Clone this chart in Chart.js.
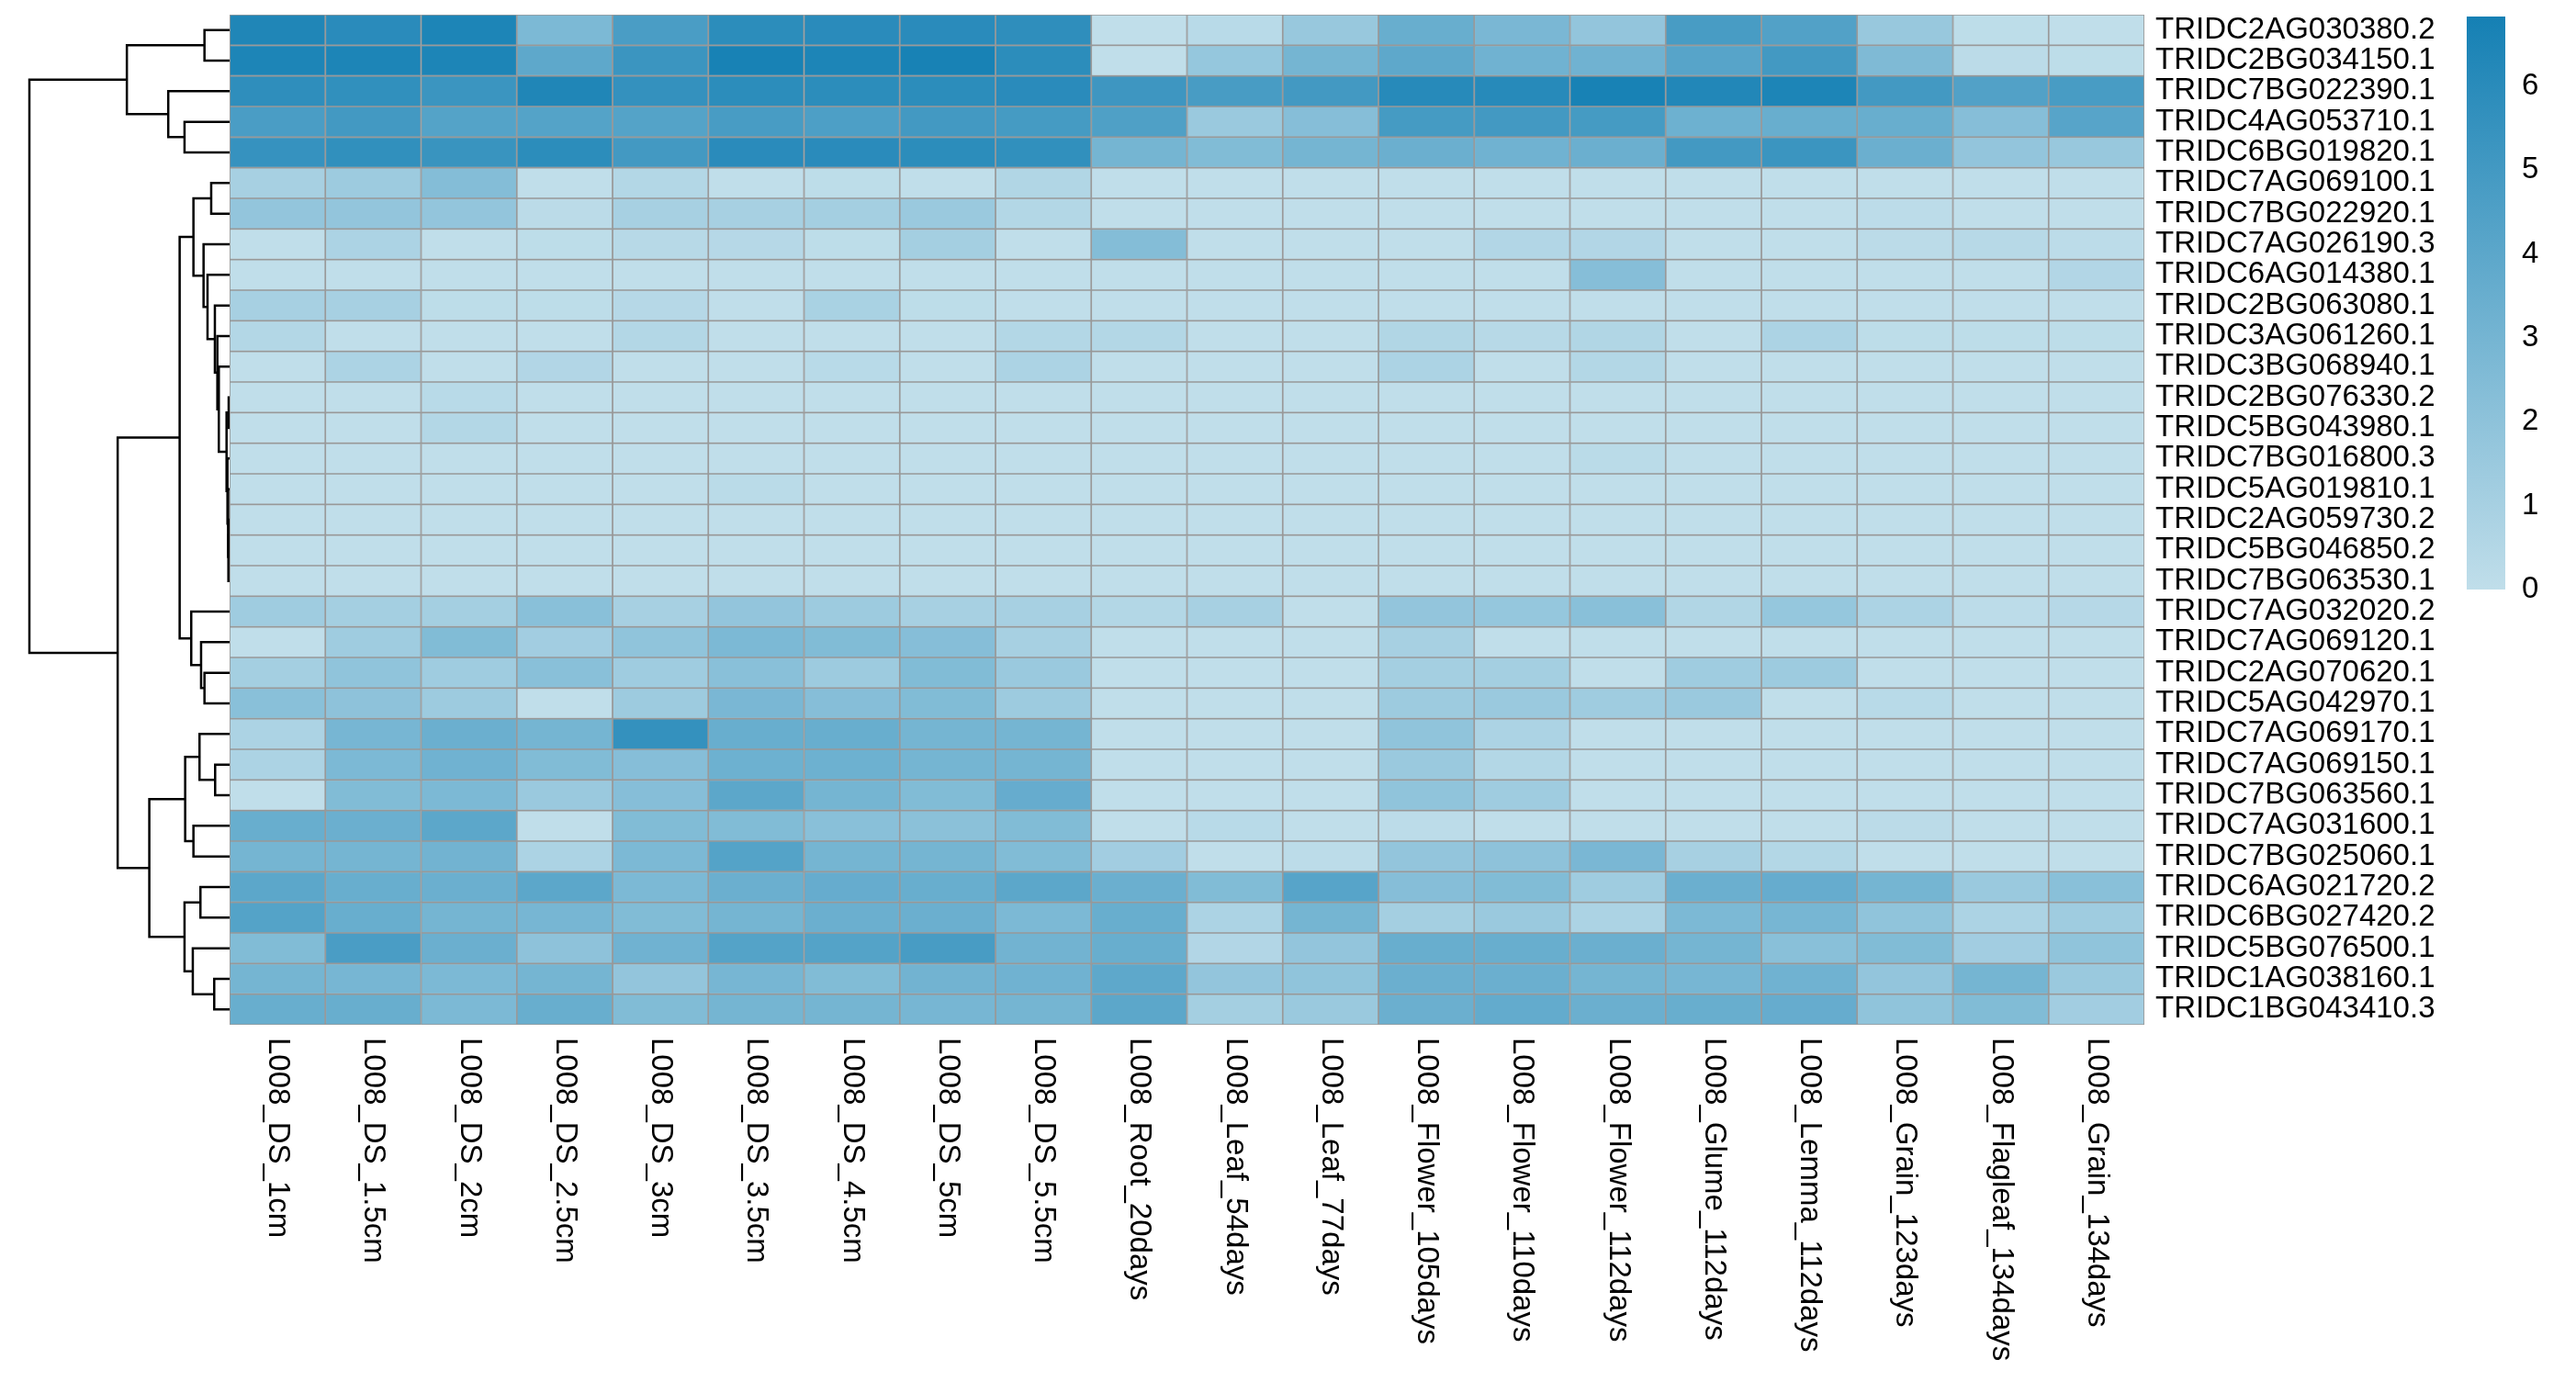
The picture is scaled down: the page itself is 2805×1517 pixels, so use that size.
<!DOCTYPE html>
<html>
<head>
<meta charset="utf-8">
<script src="https://cdn.jsdelivr.net/npm/chart.js@4.4.0/dist/chart.umd.min.js"></script>
<style>
  html, body { margin: 0; padding: 0; background: #fff; }
  #wrap { position: relative; width: 2805px; height: 1517px; }
  #wrap canvas { position: absolute; left: 0; top: 0; }
</style>
</head>
<body>
<div id="wrap">
  <canvas id="dendro" width="2805" height="1517"></canvas>
  <canvas id="heat" width="2805" height="1517"></canvas>
  <canvas id="key" width="2805" height="1517"></canvas>
</div>
<script>
// genes, top to bottom (dendrogram order)
const genes = [
  'TRIDC2AG030380.2', 'TRIDC2BG034150.1', 'TRIDC7BG022390.1', 'TRIDC4AG053710.1',
  'TRIDC6BG019820.1', 'TRIDC7AG069100.1', 'TRIDC7BG022920.1', 'TRIDC7AG026190.3',
  'TRIDC6AG014380.1', 'TRIDC2BG063080.1', 'TRIDC3AG061260.1', 'TRIDC3BG068940.1',
  'TRIDC2BG076330.2', 'TRIDC5BG043980.1', 'TRIDC7BG016800.3', 'TRIDC5AG019810.1',
  'TRIDC2AG059730.2', 'TRIDC5BG046850.2', 'TRIDC7BG063530.1', 'TRIDC7AG032020.2',
  'TRIDC7AG069120.1', 'TRIDC2AG070620.1', 'TRIDC5AG042970.1', 'TRIDC7AG069170.1',
  'TRIDC7AG069150.1', 'TRIDC7BG063560.1', 'TRIDC7AG031600.1', 'TRIDC7BG025060.1',
  'TRIDC6AG021720.2', 'TRIDC6BG027420.2', 'TRIDC5BG076500.1', 'TRIDC1AG038160.1',
  'TRIDC1BG043410.3'
];

const samples = [
  'L008_DS_1cm', 'L008_DS_1.5cm', 'L008_DS_2cm', 'L008_DS_2.5cm', 'L008_DS_3cm',
  'L008_DS_3.5cm', 'L008_DS_4.5cm', 'L008_DS_5cm', 'L008_DS_5.5cm', 'L008_Root_20days',
  'L008_Leaf_54days', 'L008_Leaf_77days', 'L008_Flower_105days', 'L008_Flower_110days',
  'L008_Flower_112days', 'L008_Glume_112days', 'L008_Lemma_112days', 'L008_Grain_123days',
  'L008_Flagleaf_134days', 'L008_Grain_134days'
];

// one row per gene, one value per sample
const expression = [
  [6.4, 6.0, 6.5, 2.7, 4.7, 5.9, 6.0, 6.0, 5.8, 0.0, 0.3, 1.6, 3.5, 2.8, 1.8, 4.8, 4.4, 1.6, 0.1, 0.0],
  [6.5, 6.5, 6.5, 3.9, 5.3, 6.7, 6.5, 6.7, 5.9, 0.0, 1.7, 3.0, 3.9, 3.2, 3.2, 4.2, 5.0, 2.6, 0.2, 0.1],
  [5.8, 5.7, 5.3, 6.4, 5.6, 5.9, 5.9, 5.9, 6.0, 5.2, 4.8, 5.0, 6.1, 6.1, 6.7, 6.3, 6.5, 5.0, 4.4, 4.8],
  [4.7, 5.0, 4.3, 4.3, 4.3, 4.8, 4.6, 5.0, 4.9, 4.5, 1.5, 2.3, 4.9, 5.0, 4.9, 3.3, 3.5, 3.5, 2.3, 4.2],
  [5.5, 5.7, 5.4, 5.9, 5.0, 6.0, 6.0, 5.9, 5.7, 3.0, 2.5, 3.0, 3.4, 3.2, 3.4, 5.0, 5.3, 3.4, 1.8, 1.6],
  [1.0, 1.4, 2.4, 0.0, 0.5, 0.0, 0.1, 0.0, 0.6, 0.0, 0.0, 0.0, 0.0, 0.0, 0.0, 0.0, 0.0, 0.0, 0.0, 0.0],
  [1.8, 1.8, 1.8, 0.2, 1.0, 1.0, 1.1, 1.5, 0.5, 0.0, 0.0, 0.0, 0.0, 0.0, 0.0, 0.0, 0.0, 0.15, 0.0, 0.0],
  [0.0, 0.8, 0.0, 0.1, 0.35, 0.4, 0.1, 1.1, 0.0, 2.4, 0.0, 0.0, 0.0, 0.55, 0.55, 0.0, 0.0, 0.2, 0.35, 0.15],
  [0.0, 0.0, 0.0, 0.0, 0.0, 0.0, 0.0, 0.0, 0.0, 0.0, 0.0, 0.0, 0.0, 0.0, 2.3, 0.0, 0.0, 0.0, 0.0, 0.55],
  [1.0, 1.0, 0.1, 0.1, 0.4, 0.0, 0.9, 0.1, 0.0, 0.0, 0.0, 0.0, 0.0, 0.0, 0.0, 0.0, 0.0, 0.0, 0.0, 0.0],
  [0.5, 0.0, 0.0, 0.0, 0.5, 0.0, 0.0, 0.0, 0.5, 0.5, 0.0, 0.0, 0.6, 0.35, 0.6, 0.0, 0.8, 0.1, 0.1, 0.1],
  [0.0, 0.8, 0.0, 0.55, 0.0, 0.0, 0.3, 0.0, 0.8, 0.0, 0.0, 0.0, 0.8, 0.0, 0.5, 0.0, 0.0, 0.0, 0.0, 0.0],
  [0.0, 0.0, 0.3, 0.0, 0.0, 0.0, 0.0, 0.0, 0.0, 0.0, 0.0, 0.0, 0.0, 0.0, 0.0, 0.0, 0.0, 0.0, 0.0, 0.0],
  [0.0, 0.0, 0.5, 0.0, 0.0, 0.0, 0.0, 0.0, 0.0, 0.0, 0.0, 0.0, 0.0, 0.0, 0.0, 0.0, 0.0, 0.0, 0.0, 0.0],
  [0.0, 0.0, 0.0, 0.0, 0.0, 0.0, 0.0, 0.0, 0.0, 0.0, 0.0, 0.0, 0.0, 0.0, 0.25, 0.0, 0.0, 0.0, 0.0, 0.0],
  [0.0, 0.0, 0.0, 0.0, 0.0, 0.25, 0.0, 0.0, 0.0, 0.0, 0.0, 0.0, 0.0, 0.0, 0.0, 0.0, 0.0, 0.0, 0.0, 0.0],
  [0.0, 0.0, 0.0, 0.0, 0.0, 0.0, 0.0, 0.0, 0.0, 0.0, 0.0, 0.0, 0.0, 0.0, 0.0, 0.0, 0.0, 0.0, 0.0, 0.0],
  [0.0, 0.0, 0.0, 0.0, 0.0, 0.0, 0.0, 0.0, 0.0, 0.0, 0.0, 0.0, 0.0, 0.0, 0.0, 0.0, 0.0, 0.0, 0.0, 0.0],
  [0.0, 0.0, 0.0, 0.0, 0.0, 0.0, 0.0, 0.0, 0.0, 0.0, 0.0, 0.0, 0.0, 0.0, 0.0, 0.0, 0.0, 0.0, 0.0, 0.0],
  [1.3, 1.1, 1.1, 2.2, 1.0, 1.8, 1.4, 1.0, 1.0, 0.5, 1.0, 0.0, 1.8, 1.7, 2.2, 0.6, 1.7, 0.8, 0.15, 0.4],
  [0.0, 1.3, 2.5, 1.2, 1.9, 2.7, 2.5, 2.3, 1.0, 0.0, 0.0, 0.0, 1.0, 0.0, 0.0, 0.0, 0.0, 0.0, 0.0, 0.0],
  [1.1, 1.9, 1.3, 2.2, 1.3, 2.2, 1.4, 2.5, 1.5, 0.0, 0.0, 0.0, 1.1, 1.1, 0.0, 1.3, 1.4, 0.0, 0.0, 0.0],
  [2.2, 2.0, 1.4, 0.0, 1.4, 2.8, 2.3, 2.5, 1.4, 0.0, 0.0, 0.0, 1.4, 1.5, 1.3, 1.5, 0.0, 0.3, 0.0, 0.0],
  [0.8, 2.9, 3.4, 3.0, 5.6, 3.5, 3.5, 3.0, 3.0, 0.0, 0.0, 0.0, 1.9, 0.8, 0.0, 0.0, 0.0, 0.0, 0.0, 0.0],
  [0.8, 2.7, 3.2, 2.5, 2.3, 3.3, 3.3, 3.0, 3.0, 0.0, 0.0, 0.0, 1.5, 0.5, 0.0, 0.0, 0.0, 0.0, 0.0, 0.0],
  [0.0, 2.5, 2.7, 1.5, 2.3, 4.0, 3.0, 2.5, 3.6, 0.0, 0.0, 0.0, 1.9, 1.3, 0.0, 0.0, 0.0, 0.0, 0.0, 0.0],
  [3.5, 3.4, 4.0, 0.0, 2.5, 2.5, 2.2, 2.1, 2.5, 0.0, 0.3, 0.0, 0.15, 0.0, 0.0, 0.0, 0.0, 0.2, 0.0, 0.0],
  [3.0, 3.0, 3.1, 0.8, 2.7, 4.3, 3.0, 3.0, 2.5, 1.2, 0.0, 0.15, 1.8, 2.0, 2.8, 1.0, 0.5, 0.0, 0.0, 0.0],
  [4.0, 3.5, 3.4, 4.0, 2.7, 3.4, 3.6, 3.5, 4.0, 3.4, 2.5, 4.2, 2.3, 2.5, 1.3, 3.4, 3.6, 3.0, 1.5, 2.2],
  [4.3, 3.5, 3.0, 2.9, 2.5, 3.0, 3.4, 3.4, 2.7, 3.5, 0.8, 3.0, 1.1, 1.5, 0.8, 2.7, 2.9, 1.9, 0.8, 1.3],
  [2.5, 4.7, 3.4, 2.0, 3.2, 4.3, 4.3, 4.8, 3.1, 3.5, 0.55, 1.8, 3.5, 3.5, 3.4, 3.0, 2.2, 2.5, 1.2, 1.9],
  [3.0, 2.9, 2.7, 3.0, 1.8, 2.9, 2.5, 3.1, 3.2, 3.9, 1.8, 1.9, 3.4, 3.4, 3.0, 2.9, 3.2, 1.8, 3.0, 1.5],
  [3.5, 3.5, 2.7, 3.5, 2.5, 3.0, 3.0, 2.9, 3.0, 4.0, 1.1, 1.5, 3.4, 3.7, 3.4, 3.5, 3.6, 1.9, 2.5, 1.2]
];

// hclust style merges: negative = gene (1-based), positive = earlier merge; last = height
const merges = [
  [-17, -18, 0.7], [1, -19, 1.3], [-16, 2, 1.8], [-13, -14, 1.0],
  [-15, 3, 2.3], [4, 5, 3.3], [-12, 6, 11.7], [-11, 7, 13.3],
  [-10, 8, 16.0], [-25, -26, 15.7], [-32, -33, 16.7], [-6, -7, 20.0],
  [-9, 9, 24.0], [-1, -2, 27.3], [-22, -23, 27.3], [-8, 13, 28.3],
  [-21, 15, 31.0], [-29, -30, 31.7], [-24, 10, 32.7], [12, 16, 39.3],
  [-27, -28, 39.3], [-31, 11, 40.0], [-20, 17, 41.7], [19, 21, 48.3],
  [-4, -5, 49.0], [18, 22, 49.0], [20, 23, 54.3], [-3, 25, 66.7],
  [24, 26, 87.3], [14, 28, 111.7], [27, 29, 121.7], [30, 31, 217.7]
];

const legendTicks = [0, 1, 2, 3, 4, 5, 6];
const legendMax = 6.83;

const FONT = "'Liberation Sans', Arial, sans-serif";
const FONT_PX = 33;
const lowRGB = [192, 222, 234];
const highRGB = [21, 128, 180];

Chart.defaults.font.family = FONT;
Chart.defaults.color = '#000';

function heatColor(v) {
  const t = Math.min(1, Math.max(0, v / legendMax));
  const c = lowRGB.map((lo, i) => Math.round(lo + (highRGB[i] - lo) * t));
  return `rgb(${c[0]}, ${c[1]}, ${c[2]})`;
}

// keep tick labels from pushing the plot area around
function pinScale(width) {
  return function (scale) {
    scale.width = width;
    scale.paddingTop = 0;
    scale.paddingBottom = 0;
  };
}

// ---- dendrogram ----
function dendroSegments() {
  const nodes = [];
  const at = k => (k < 0 ? { y: -k - 1, h: 0 } : nodes[k - 1]);
  return merges.map(([a, b, h]) => {
    const A = at(a), B = at(b);
    nodes.push({ y: (A.y + B.y) / 2, h: h });
    return [
      { x: A.h, y: A.y }, { x: h, y: A.y },
      { x: h, y: B.y }, { x: B.h, y: B.y }
    ];
  });
}

new Chart(document.getElementById('dendro'), {
  type: 'scatter',
  data: {
    datasets: dendroSegments().map(seg => ({
      data: seg,
      showLine: true,
      borderColor: '#000',
      borderWidth: 2.5,
      pointRadius: 0,
      clip: false
    }))
  },
  options: {
    responsive: false,
    animation: false,
    layout: { padding: { left: 32, right: 2805 - 250, top: 16, bottom: 1517 - 1116 } },
    plugins: { legend: { display: false }, tooltip: { enabled: false } },
    scales: {
      x: { type: 'linear', display: false, min: 0, max: 217.7, reverse: true },
      y: { type: 'linear', display: false, min: -0.5, max: genes.length - 0.5, reverse: true }
    }
  }
});

// ---- heatmap ----
const sampleLabels = {
  id: 'sampleLabels',
  afterDraw(chart) {
    const { ctx, chartArea, scales } = chart;
    ctx.save();
    ctx.font = `${FONT_PX}px ${FONT}`;
    ctx.fillStyle = '#000';
    ctx.textAlign = 'left';
    ctx.textBaseline = 'middle';
    samples.forEach((s, j) => {
      ctx.save();
      ctx.translate(scales.x.getPixelForValue(j + 0.5), chartArea.bottom + 14);
      ctx.rotate(Math.PI / 2);
      ctx.fillText(s, 0, 0);
      ctx.restore();
    });
    ctx.restore();
  }
};

new Chart(document.getElementById('heat'), {
  type: 'bar',
  data: {
    labels: genes,
    datasets: samples.map((s, j) => ({
      label: s,
      data: genes.map(() => 1),
      backgroundColor: expression.map(row => heatColor(row[j])),
      borderColor: '#999999',
      borderWidth: 1.2,
      borderSkipped: false,
      barPercentage: 1,
      categoryPercentage: 1
    }))
  },
  options: {
    indexAxis: 'y',
    responsive: false,
    animation: false,
    layout: { padding: { left: 250, right: 0, top: 16, bottom: 1517 - 1116 } },
    plugins: { legend: { display: false }, tooltip: { enabled: false } },
    scales: {
      x: { type: 'linear', stacked: true, display: false, min: 0, max: samples.length },
      y: {
        stacked: true,
        position: 'right',
        grid: { display: false, drawTicks: false },
        border: { display: false },
        ticks: { autoSkip: false, padding: 12, color: '#000', font: { size: FONT_PX } },
        afterFit: pinScale(2805 - 2335)
      }
    }
  },
  plugins: [sampleLabels]
});

// ---- colour key ----
new Chart(document.getElementById('key'), {
  type: 'bar',
  data: {
    labels: ['key'],
    datasets: [{
      data: [[0, legendMax]],
      backgroundColor(context) {
        const area = context.chart.chartArea;
        if (!area) return heatColor(0);
        const g = context.chart.ctx.createLinearGradient(0, area.bottom, 0, area.top);
        g.addColorStop(0, heatColor(0));
        g.addColorStop(1, heatColor(legendMax));
        return g;
      },
      borderWidth: 0,
      barPercentage: 1,
      categoryPercentage: 1
    }]
  },
  options: {
    responsive: false,
    animation: false,
    layout: { padding: { left: 2686, right: 0, top: 18, bottom: 1517 - 642 } },
    plugins: { legend: { display: false }, tooltip: { enabled: false } },
    scales: {
      x: { display: false },
      y: {
        position: 'right',
        min: 0,
        max: legendMax,
        grid: { display: false, drawTicks: false },
        border: { display: false },
        ticks: { padding: 18, color: '#000', font: { size: FONT_PX } },
        afterBuildTicks(scale) { scale.ticks = legendTicks.map(v => ({ value: v })); },
        afterFit: pinScale(2805 - 2728)
      }
    }
  }
});
</script>
</body>
</html>
